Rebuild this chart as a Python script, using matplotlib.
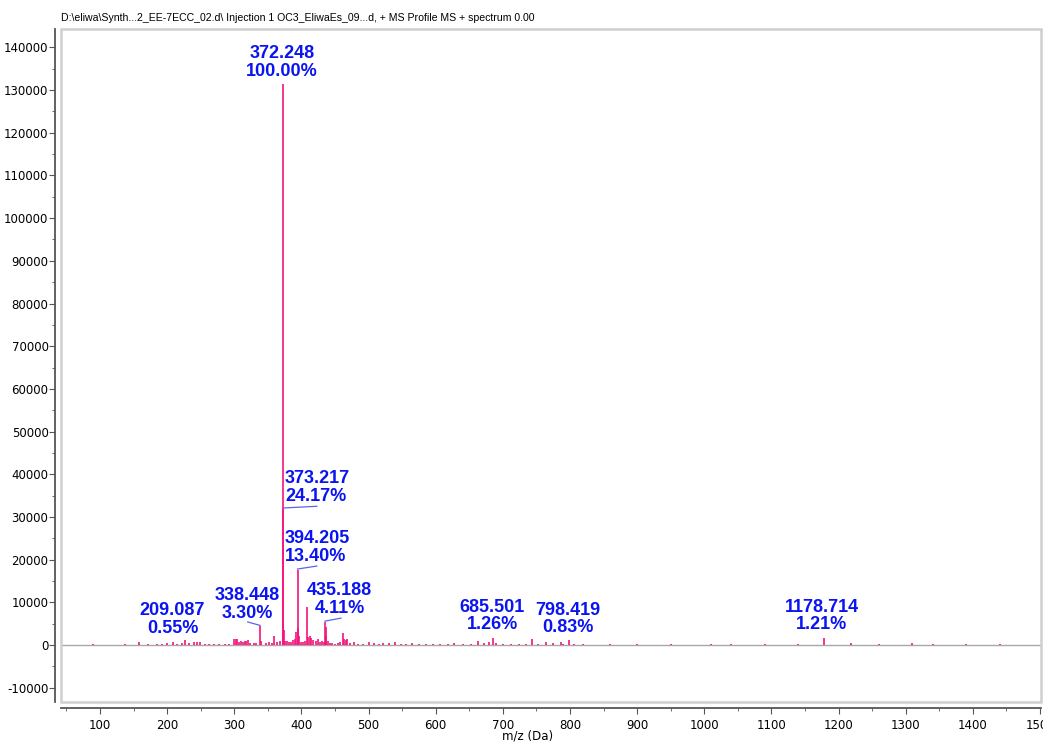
import matplotlib
matplotlib.use("Agg")
import matplotlib.pyplot as plt
from matplotlib.patches import Rectangle
from matplotlib.ticker import MultipleLocator

plt.rcParams["axes.unicode_minus"] = False

# peak list (m/z, intensity)
peak_mz = [
    89, 137, 158, 172, 185, 193, 200, 209.1, 214, 222, 227, 233, 240, 244, 249, 256,
    262, 270, 278, 286, 292, 300, 302, 304, 307, 310, 313, 316, 318, 320, 324, 329,
    333, 338.4, 340, 347, 352, 356, 359, 364, 368, 372.2, 373.2, 374.2, 376, 379,
    382, 385, 388, 390, 392, 394.2, 395.2, 396.2, 400, 403, 406, 408.5, 410, 413,
    415, 418, 421, 425, 428, 431, 433, 435.2, 436.2, 437.2, 439, 442, 446, 450, 455,
    458, 461.5, 463, 466, 468, 472, 478, 485, 492, 500, 508, 515, 522, 530, 540,
    548, 556, 565, 575, 585, 596, 607, 618, 628, 640, 652, 663, 672, 680, 685.5,
    690, 700, 712, 724, 735, 743, 752, 765, 775, 786, 790, 798.4, 806, 820, 860,
    900, 950, 1010, 1040, 1090, 1140, 1178.7, 1218, 1260, 1309, 1340, 1390, 1440,
]
peak_int = [
    200, 300, 600, 250, 350, 300, 400, 720, 350, 500, 1200, 400, 700, 800, 700, 300,
    350, 250, 300, 250, 300, 1500, 1400, 1300, 700, 900, 800, 1000, 900, 1100, 500, 400,
    450, 4340, 1000, 400, 700, 500, 2100, 600, 900, 131500, 31800, 3500, 900, 1000,
    700, 800, 1200, 1500, 3000, 17600, 4000, 2000, 700, 800, 1000, 8800, 1800, 2000,
    1600, 1200, 900, 1400, 800, 1000, 700, 5400, 4200, 2000, 900, 500, 400, 300, 400,
    600, 2700, 1500, 1200, 1400, 500, 700, 300, 350, 800, 400, 350, 400, 500, 700,
    350, 300, 400, 300, 250, 300, 350, 300, 400, 300, 350, 860, 400, 600, 1650,
    500, 350, 300, 350, 300, 1400, 350, 800, 400, 600, 350, 1090, 300, 250, 200,
    150, 200, 200, 150, 150, 150, 1590, 550, 150, 500, 150, 150, 150,
]

# annotated peaks
label_mz = [372.248, 373.217, 394.205, 435.188, 338.448, 209.087, 685.501, 798.419, 1178.714]
label_pct = [100.00, 24.17, 13.40, 4.11, 3.30, 0.55, 1.26, 0.83, 1.21]

title = r"D:\eliwa\Synth...2_EE-7ECC_02.d\ Injection 1 OC3_EliwaEs_09...d, + MS Profile MS + spectrum 0.00"

fig = plt.figure(figsize=(10.43, 7.42), dpi=100)
ax = fig.add_axes([0.0585, 0.0539, 0.9396, 0.907])

pink = "#f5137d"
blue = "#0a14f0"

ax.vlines(peak_mz, 0, peak_int, color=pink, lw=1.2)
ax.axhline(0, color="#a8a8a8", lw=1, zorder=0)

ax.set_xlim(42, 1501.5)
ax.set_ylim(-13350, 144300)

# text positions for each label (x, y, ha) and leader lines
text_pos = [
    (371, 136500, "center"),
    (375.5, 36900, "left"),
    (375.5, 22800, "left"),
    (457, 10650, "center"),
    (320, 9500, "center"),
    (208, 5970, "center"),
    (684, 6800, "center"),
    (797, 6100, "center"),
    (1175, 6800, "center"),
]
leaders = {
    1: ((373.2, 423), (32100, 32500)),
    2: ((394.2, 423), (17800, 18500)),
    3: ((435.2, 459), (5600, 6300)),
    4: ((338.4, 320), (4600, 5400)),
}
for i, (m, p) in enumerate(zip(label_mz, label_pct)):
    x, y, ha = text_pos[i]
    ax.text(x, y, f"{m:.3f}\n{p:.2f}%", color=blue, fontsize=13, fontweight="bold",
            family="Liberation Sans", ha=ha, va="center", linespacing=1.05)
    if i in leaders:
        xs, ys = leaders[i]
        ax.plot(xs, ys, color="#5a64e6", lw=0.9)

# light grey plot frame
ax.add_patch(Rectangle((0, 0), 1, 1, transform=ax.transAxes, fill=False,
                       ec="#cfcfcf", lw=1.8, clip_on=False, zorder=5))

for s in ["top", "right"]:
    ax.spines[s].set_visible(False)
ax.spines["left"].set_position(("outward", 4))
ax.spines["bottom"].set_position(("outward", 4))
for s in ["left", "bottom"]:
    ax.spines[s].set_color("#555555")
    ax.spines[s].set_linewidth(1.3)

ax.yaxis.set_major_locator(MultipleLocator(10000))
ax.yaxis.set_minor_locator(MultipleLocator(5000))
ax.xaxis.set_major_locator(MultipleLocator(100))
ax.xaxis.set_minor_locator(MultipleLocator(50))
ax.tick_params(which="major", length=4, color="#555555", labelsize=8.5, pad=1)
ax.tick_params(which="minor", length=2, color="#555555")
ax.tick_params(axis="x", pad=4)

fig.text(61 / 1043, 1 - 18 / 742, title, fontsize=7.6, family="Liberation Sans",
         ha="left", va="center")
fig.text(528 / 1043, 1 - 736 / 742, "m/z (Da)", fontsize=8.5, ha="center", va="center")

fig.savefig("out.png", dpi=100)
